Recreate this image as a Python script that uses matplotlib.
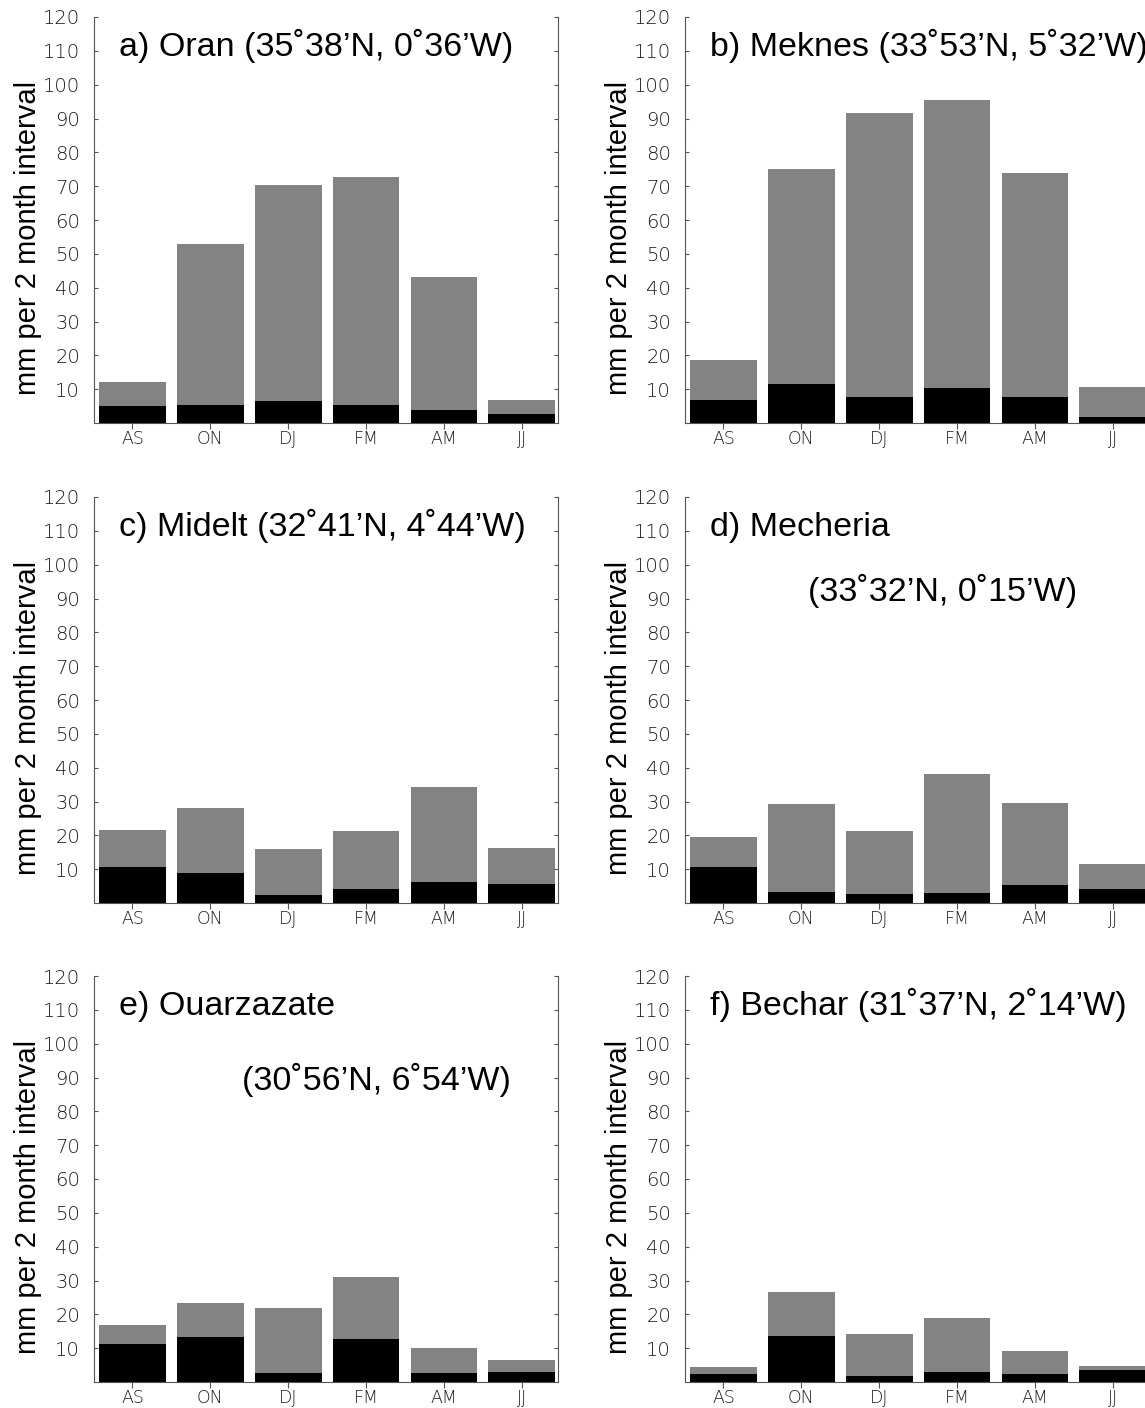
import matplotlib
matplotlib.use("Agg")
import matplotlib.pyplot as plt
import numpy as np

# ---- data -------------------------------------------------------------
periods = ["AS", "ON", "DJ", "FM", "AM", "JJ"]

titles_line1 = [
    "a) Oran (35˚38’N, 0˚36’W)",
    "b) Meknes (33˚53’N, 5˚32’W)",
    "c) Midelt (32˚41’N, 4˚44’W)",
    "d) Mecheria",
    "e) Ouarzazate",
    "f) Bechar (31˚37’N, 2˚14’W)",
]
titles_line2 = ["", "", "", "(33˚32’N, 0˚15’W)", "(30˚56’N, 6˚54’W)", ""]

# total (gray top) and black (lower) part, mm per 2 month interval
oran_total = [12.2, 53.0, 70.4, 72.8, 43.2, 6.8]
oran_black = [4.9, 5.3, 6.6, 5.4, 3.7, 2.8]
meknes_total = [18.5, 75.1, 91.6, 95.4, 73.9, 10.5]
meknes_black = [6.7, 11.5, 7.8, 10.3, 7.8, 1.7]
midelt_total = [21.7, 28.1, 16.0, 21.4, 34.3, 16.3]
midelt_black = [10.5, 8.8, 2.5, 4.0, 6.2, 5.7]
mecheria_total = [19.4, 29.2, 21.3, 38.1, 29.7, 11.5]
mecheria_black = [10.6, 3.2, 2.7, 3.1, 5.4, 4.2]
ouarzazate_total = [16.7, 23.3, 22.0, 31.0, 10.0, 6.5]
ouarzazate_black = [11.1, 13.4, 2.7, 12.6, 2.7, 3.0]
bechar_total = [4.4, 26.6, 14.2, 18.9, 9.2, 4.6]
bechar_black = [2.3, 13.5, 1.9, 3.1, 2.3, 3.4]

totals = [oran_total, meknes_total, midelt_total, mecheria_total, ouarzazate_total, bechar_total]
blacks = [oran_black, meknes_black, midelt_black, mecheria_black, ouarzazate_black, bechar_black]

yticks = [10, 20, 30, 40, 50, 60, 70, 80, 90, 100, 110, 120]
ylabel = "mm per 2 month interval"

# ---- layout -------------------------------------------------------------
W, H = 1145, 1408
fig = plt.figure(figsize=(W / 100, H / 100), dpi=100)

col_left = [94, 685]
row_bottom = [423, 903, 1382]
ax_w, ax_h = 464, 406

title_font = ["Liberation Sans", "DejaVu Sans"]
title_size = 24.5
gray = "#838383"
spine_col = "#555555"

line2_pos = {3: (0.265, 0.745), 4: (0.318, 0.72)}

for i in range(6):
    r, c = divmod(i, 2)
    left = col_left[c] / W
    bottom = 1 - row_bottom[r] / H
    ax = fig.add_axes([left, bottom, ax_w / W, ax_h / H])

    x = np.arange(len(periods))
    tot = np.array(totals[i])
    blk = np.array(blacks[i])
    ax.bar(x, blk, width=0.857, color="black", linewidth=0)
    ax.bar(x, tot - blk, bottom=blk, width=0.857, color=gray, linewidth=0)

    ax.set_xlim(-0.494, 5.466)
    ax.set_ylim(0, 120)
    ax.set_yticks(yticks)
    ax.set_xticks(x)
    ax.set_xticklabels(periods)

    for s in ["left", "right", "bottom"]:
        ax.spines[s].set_color(spine_col)
        ax.spines[s].set_linewidth(0.8)
    ax.spines["top"].set_visible(False)

    ax.tick_params(axis="y", which="both", direction="in", length=3, width=0.8,
                   color=spine_col, right=True, left=True, pad=10)
    ax.tick_params(axis="x", direction="out", length=4, width=0.8,
                   color=spine_col, pad=1)
    for lab in ax.get_yticklabels():
        lab.set_fontfamily(["DejaVu Sans"])
        lab.set_fontweight("light")
        lab.set_fontsize(14)
        lab.set_color("#1a1a1a")
    for lab in ax.get_xticklabels():
        lab.set_fontfamily(["DejaVu Sans"])
        lab.set_fontweight("light")
        lab.set_fontsize(12.5)
        lab.set_color("#1a1a1a")

    ax.text(-0.142, 0.457, ylabel, transform=ax.transAxes, rotation=90,
            ha="center", va="center", fontsize=21,
            family=["Liberation Sans", "DejaVu Sans"])

    ax.text(0.054, 0.905, titles_line1[i], transform=ax.transAxes,
            ha="left", va="baseline", fontsize=title_size, family=title_font)
    if titles_line2[i]:
        px, py = line2_pos[i]
        ax.text(px, py, titles_line2[i], transform=ax.transAxes,
                ha="left", va="baseline", fontsize=title_size, family=title_font)

fig.savefig("out.png", dpi=100)
